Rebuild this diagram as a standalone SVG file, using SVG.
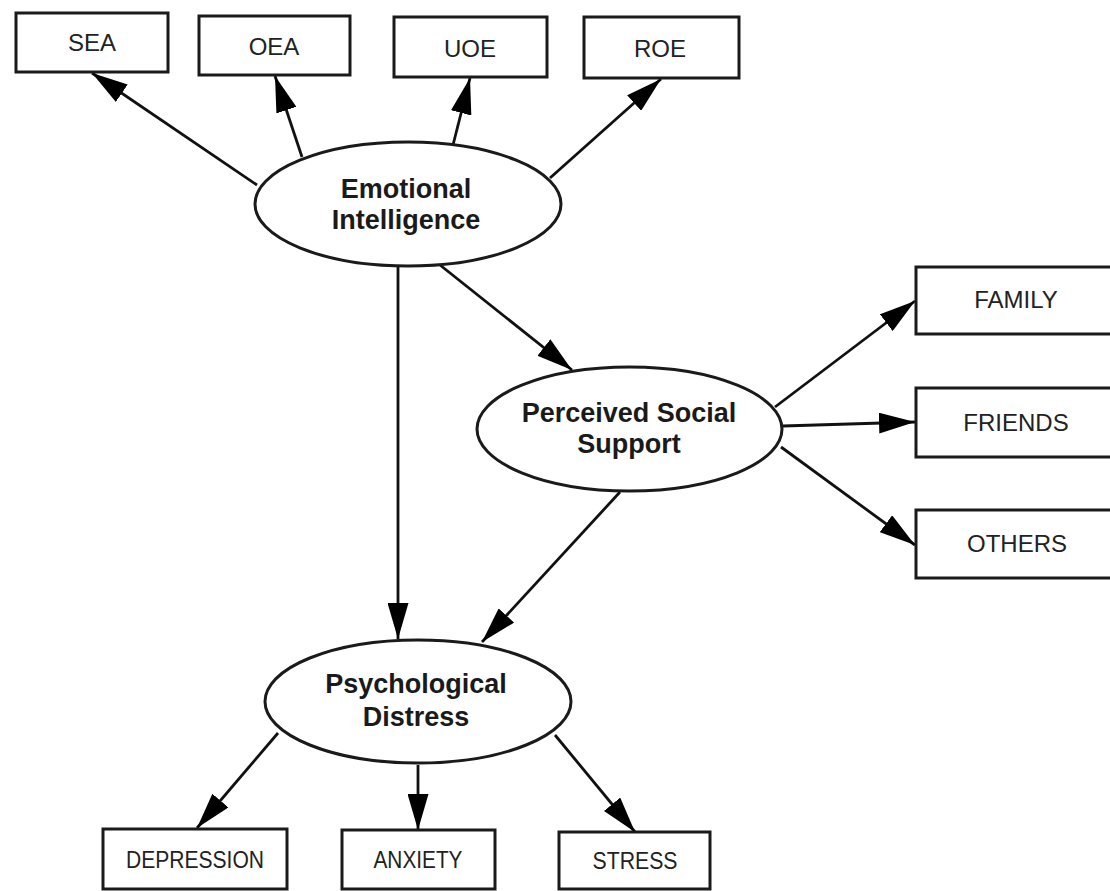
<svg xmlns="http://www.w3.org/2000/svg" width="1110" height="891" viewBox="0 0 1110 891">
<style>
  .box { fill: #ffffff; stroke: #1a1a1a; stroke-width: 3; }
  .ell { fill: #ffffff; stroke: #1a1a1a; stroke-width: 3; }
  .lbl { font-family: "Liberation Sans", Arial, sans-serif; font-size: 24px; fill: #222222; text-anchor: middle; }
  .blbl { font-family: "Liberation Sans", Arial, sans-serif; font-size: 27px; font-weight: bold; fill: #1a1a1a; text-anchor: middle; }
  .conn line { stroke: #111111; stroke-width: 2.8; fill: none; marker-end: url(#arrow); }
</style>
<defs>
  <marker id="arrow" markerUnits="userSpaceOnUse" markerWidth="36" markerHeight="21" refX="36" refY="10.5" orient="auto">
    <path d="M0,0 L36,10.5 L0,21 Z" fill="#000000"/>
  </marker>
</defs>
<rect width="1110" height="891" fill="#ffffff"/>

<g id="connectors" class="conn">
  <line x1="257" y1="185" x2="92" y2="73"/>
  <line x1="302" y1="157" x2="275" y2="76"/>
  <line x1="453" y1="145" x2="470" y2="78"/>
  <line x1="550" y1="178" x2="661" y2="79"/>
  <line x1="440" y1="265" x2="572" y2="370"/>
  <line x1="398" y1="265" x2="398" y2="639"/>
  <line x1="775" y1="407" x2="915" y2="301"/>
  <line x1="783" y1="426" x2="915" y2="422"/>
  <line x1="781" y1="447" x2="915" y2="545"/>
  <line x1="620" y1="492" x2="482" y2="642"/>
  <line x1="278" y1="733" x2="197" y2="828"/>
  <line x1="418" y1="765" x2="418" y2="830"/>
  <line x1="555" y1="735" x2="635" y2="832"/>
</g>

<g id="node-sea">
  <rect class="box" x="16" y="13" width="152" height="59"/>
  <text class="lbl" x="92" y="51">SEA</text>
</g>
<g id="node-oea">
  <rect class="box" x="199" y="16" width="151" height="59"/>
  <text class="lbl" x="274" y="55">OEA</text>
</g>
<g id="node-uoe">
  <rect class="box" x="394" y="17" width="153" height="60"/>
  <text class="lbl" x="470" y="57">UOE</text>
</g>
<g id="node-roe">
  <rect class="box" x="584" y="17" width="155" height="61"/>
  <text class="lbl" x="660" y="57">ROE</text>
</g>

<g id="node-ei">
  <ellipse class="ell" cx="408" cy="204" rx="153" ry="62"/>
  <text class="blbl" x="406" y="198">Emotional</text>
  <text class="blbl" x="406" y="229">Intelligence</text>
</g>

<g id="node-pss">
  <ellipse class="ell" cx="629.5" cy="429" rx="152.5" ry="62"/>
  <text class="blbl" x="629" y="422">Perceived Social</text>
  <text class="blbl" x="629" y="453">Support</text>
</g>

<g id="node-family">
  <rect class="box" x="916" y="267" width="200" height="67"/>
  <text class="lbl" x="1016" y="308">FAMILY</text>
</g>
<g id="node-friends">
  <rect class="box" x="916" y="388" width="200" height="69"/>
  <text class="lbl" x="1016" y="431">FRIENDS</text>
</g>
<g id="node-others">
  <rect class="box" x="916" y="510" width="200" height="68"/>
  <text class="lbl" x="1017" y="552">OTHERS</text>
</g>

<g id="node-pd">
  <ellipse class="ell" cx="418" cy="701.5" rx="153" ry="61.5"/>
  <text class="blbl" x="416" y="693">Psychological</text>
  <text class="blbl" x="416" y="726">Distress</text>
</g>

<g id="node-depression">
  <rect class="box" x="103" y="829" width="184" height="60"/>
  <text class="lbl" x="195" y="868" textLength="138" lengthAdjust="spacingAndGlyphs">DEPRESSION</text>
</g>
<g id="node-anxiety">
  <rect class="box" x="342" y="830" width="153" height="59"/>
  <text class="lbl" x="418" y="868" textLength="89" lengthAdjust="spacingAndGlyphs">ANXIETY</text>
</g>
<g id="node-stress">
  <rect class="box" x="559" y="832" width="151" height="57"/>
  <text class="lbl" x="635" y="869" textLength="85" lengthAdjust="spacingAndGlyphs">STRESS</text>
</g>
</svg>
